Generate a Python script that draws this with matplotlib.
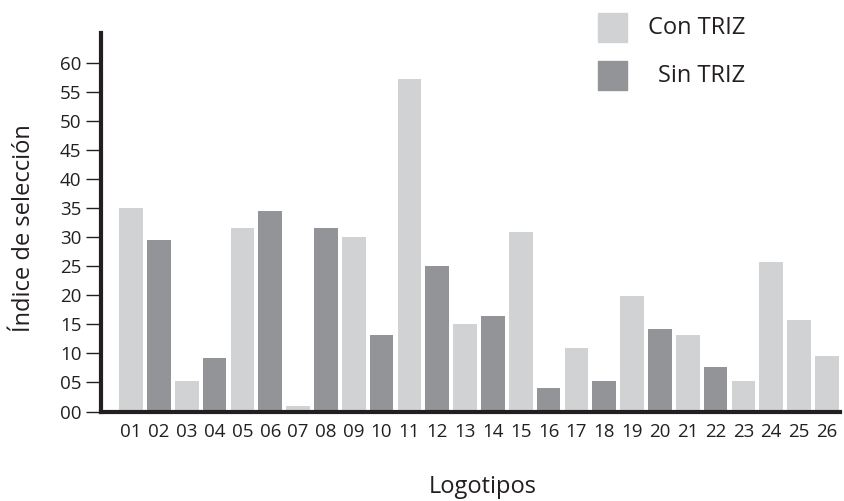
import matplotlib.pyplot as plt
from matplotlib.patches import Rectangle

# Values
logos = [f"{i:02d}" for i in range(1, 27)]
values = [35.1, 29.6, 5.3, 9.3, 31.6, 34.6, 1.0, 31.6, 30.1, 13.2,
          57.2, 25.1, 15.0, 16.5, 30.9, 4.1, 11.0, 5.2, 19.9, 14.3,
          13.1, 7.7, 5.3, 25.8, 15.8, 9.6]
groups = ["con", "sin", "con", "sin", "con", "sin", "con", "sin", "con", "sin",
          "con", "sin", "con", "sin", "con", "sin", "con", "sin", "con", "sin",
          "con", "sin", "con", "con", "con", "con"]
yticks = list(range(0, 61, 5))
ytick_labels = [f"{v:02d}" for v in yticks]

LIGHT = "#d1d2d4"
DARK = "#939498"
INK = "#231f20"
colors = {"con": LIGHT, "sin": DARK}

plt.rcParams["font.family"] = ["Open Sans", "DejaVu Sans"]

fig = plt.figure(figsize=(8.45, 5.01), dpi=100, facecolor="white")
ax = fig.add_axes([0.1195, 0.1786, 0.8745, 0.7555])

xs = range(len(values))
ax.bar(xs, values, width=0.85, color=[colors[g] for g in groups])

ax.set_xlim(-1.08, 25.47)
ax.set_ylim(0, 65.2)
ax.set_yticks(yticks, ytick_labels)
ax.set_xticks(list(xs), logos)

for side in ("top", "right"):
    ax.spines[side].set_visible(False)
for side in ("left", "bottom"):
    ax.spines[side].set_linewidth(3)
    ax.spines[side].set_color(INK)

ax.tick_params(axis="y", length=11, width=1, color=INK, labelsize=13.5,
               labelcolor=INK, pad=3)
ax.tick_params(axis="x", length=0, labelsize=13.5, labelcolor=INK, pad=8)

fig.text(483 / 845, 1 - 487 / 501, "Logotipos", ha="center", va="center",
         fontsize=17, color=INK)
fig.text(24 / 845, 1 - 228 / 501, "Índice de selección", ha="center", va="center",
         rotation=90, fontsize=17, color=INK)

# Legend drawn by hand at the top right
for (label, key), ytop in zip([("Con TRIZ", "con"), ("Sin TRIZ", "sin")], [13, 61]):
    fig.patches.append(Rectangle((598 / 845, 1 - (ytop + 29) / 501), 29 / 845, 29 / 501,
                                 transform=fig.transFigure, color=colors[key]))
    fig.text(745 / 845, 1 - (ytop + 14.5) / 501, label, ha="right", va="center",
             fontsize=17, color=INK)

fig.savefig("out.png", dpi=100, facecolor="white")
